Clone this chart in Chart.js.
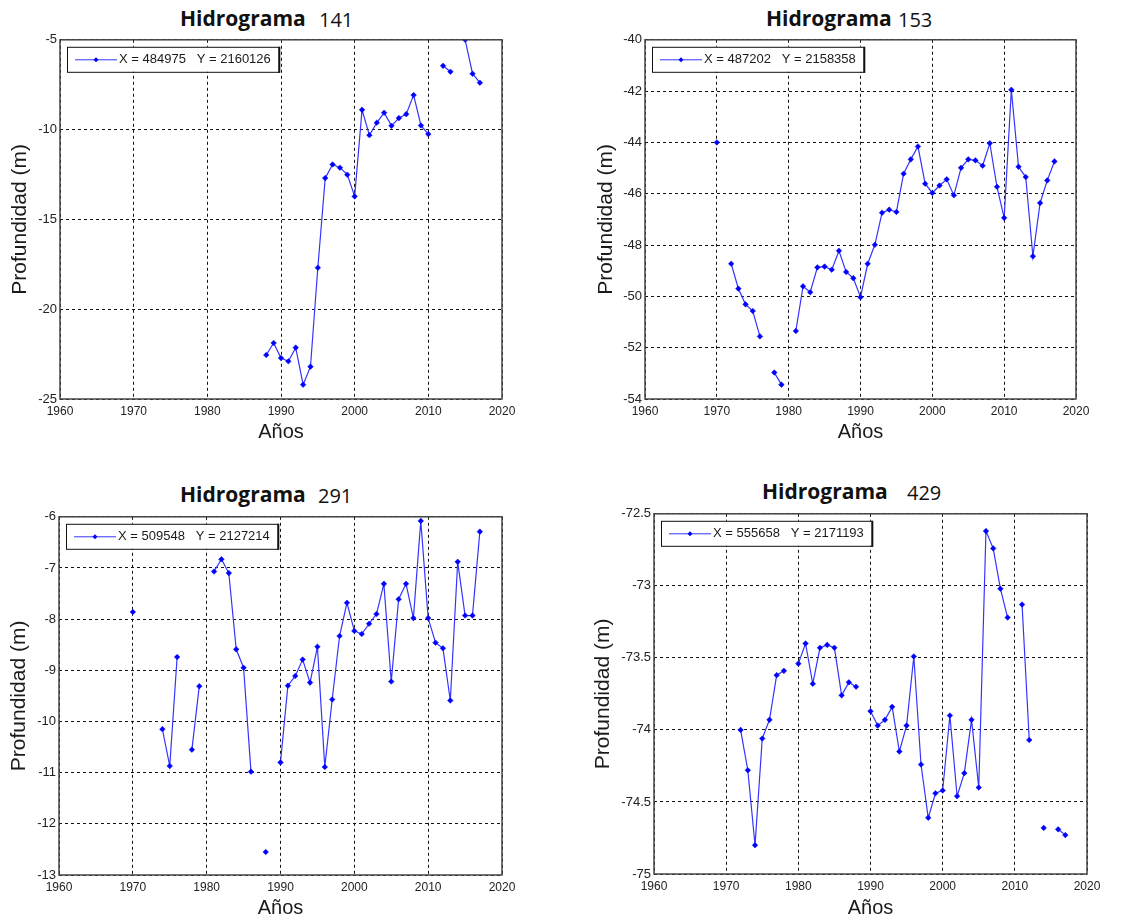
<!DOCTYPE html>
<html>
<head>
<meta charset="utf-8">
<script src="https://cdn.jsdelivr.net/npm/chart.js@4.4.0/dist/chart.umd.min.js"></script>
<style>
  body { margin: 0; background: #fff; width: 1135px; height: 919px; position: relative; overflow: hidden; }
  .ttl { position: absolute; font-family: "Open Sans", sans-serif; font-size: 21px; line-height: 21px; color: #111; white-space: pre; }
  .ttl.b { font-weight: 700; }
  .ttl.n { font-weight: 400; font-size: 20px; }
  canvas { position: absolute; }
</style>
</head>
<body>
<div class="ttl b" style="left:180px;top:8px">Hidrograma</div>
<div class="ttl n" style="left:319px;top:9px">141</div>
<div class="ttl b" style="left:766px;top:8px">Hidrograma</div>
<div class="ttl n" style="left:898px;top:9px">153</div>
<div class="ttl b" style="left:180px;top:484px">Hidrograma</div>
<div class="ttl n" style="left:318px;top:485px">291</div>
<div class="ttl b" style="left:762px;top:481px">Hidrograma</div>
<div class="ttl n" style="left:907px;top:482px">429</div>

<canvas id="c141" width="514" height="415" style="left:8px;top:29px"></canvas>
<canvas id="c153" width="502" height="415" style="left:594px;top:29px"></canvas>
<canvas id="c291" width="515" height="414" style="left:7px;top:506px"></canvas>
<canvas id="c429" width="516" height="417" style="left:591px;top:503px"></canvas>

<script>
// ---- datos ----
const xTicks = [1960, 1970, 1980, 1990, 2000, 2010, 2020];

const years141 = [1988, 1989, 1990, 1991, 1992, 1993, 1994, 1995, 1996, 1997, 1998, 1999, 2000, 2001, 2002, 2003, 2004, 2005, 2006, 2007, 2008, 2009, 2010, 2011, 2012, 2013, 2014, 2015, 2016, 2017];
const depth141 = [-22.55, -21.88, -22.72, -22.90, -22.14, -24.20, -23.20, -17.69, -12.70, -11.94, -12.12, -12.51, -13.72, -8.90, -10.31, -9.62, -9.06, -9.79, -9.36, -9.14, -8.08, -9.77, -10.25, null, -6.45, -6.78, null, -5.00, -6.89, -7.39];
const label141 = 'X = 484975   Y = 2160126';
const yTicks141 = [-25, -20, -15, -10, -5];

const years153 = [1970, 1971, 1972, 1973, 1974, 1975, 1976, 1977, 1978, 1979, 1980, 1981, 1982, 1983, 1984, 1985, 1986, 1987, 1988, 1989, 1990, 1991, 1992, 1993, 1994, 1995, 1996, 1997, 1998, 1999, 2000, 2001, 2002, 2003, 2004, 2005, 2006, 2007, 2008, 2009, 2010, 2011, 2012, 2013, 2014, 2015, 2016, 2017];
const depth153 = [-44.0, null, -48.73, -49.70, -50.31, -50.57, -51.56, null, -52.97, -53.44, null, -51.35, -49.61, -49.84, -48.87, -48.84, -48.96, -48.22, -49.05, -49.29, -50.03, -48.73, -47.99, -46.74, -46.62, -46.71, -45.22, -44.66, -44.16, -45.61, -45.97, -45.68, -45.44, -46.06, -44.99, -44.66, -44.70, -44.91, -44.03, -45.73, -46.94, -41.95, -44.95, -45.35, -48.44, -46.36, -45.48, -44.74];
const label153 = 'X = 487202   Y = 2158358';
const yTicks153 = [-54, -52, -50, -48, -46, -44, -42, -40];

const years291 = [1970, 1971, 1972, 1973, 1974, 1975, 1976, 1977, 1978, 1979, 1980, 1981, 1982, 1983, 1984, 1985, 1986, 1987, 1988, 1989, 1990, 1991, 1992, 1993, 1994, 1995, 1996, 1997, 1998, 1999, 2000, 2001, 2002, 2003, 2004, 2005, 2006, 2007, 2008, 2009, 2010, 2011, 2012, 2013, 2014, 2015, 2016, 2017];
const depth291 = [-7.86, null, null, null, -10.15, -10.87, -8.74, null, -10.55, -9.31, null, -7.07, -6.83, -7.10, -8.59, -8.95, -10.98, null, -12.55, null, -10.80, -9.30, -9.11, -8.79, -9.24, -8.54, -10.89, -9.57, -8.33, -7.68, -8.23, -8.29, -8.09, -7.90, -7.31, -9.22, -7.61, -7.31, -7.98, -6.08, -7.98, -8.46, -8.57, -9.59, -6.88, -7.93, -7.93, -6.29];
const label291 = 'X = 509548   Y = 2127214';
const yTicks291 = [-13, -12, -11, -10, -9, -8, -7, -6];

const years429 = [1972, 1973, 1974, 1975, 1976, 1977, 1978, 1979, 1980, 1981, 1982, 1983, 1984, 1985, 1986, 1987, 1988, 1989, 1990, 1991, 1992, 1993, 1994, 1995, 1996, 1997, 1998, 1999, 2000, 2001, 2002, 2003, 2004, 2005, 2006, 2007, 2008, 2009, 2010, 2011, 2012, 2013, 2014, 2015, 2016, 2017];
const depth429 = [-74.00, -74.28, -74.80, -74.06, -73.93, -73.62, -73.59, null, -73.54, -73.40, -73.68, -73.43, -73.41, -73.43, -73.76, -73.67, -73.70, null, -73.87, -73.97, -73.93, -73.84, -74.15, -73.97, -73.49, -74.24, -74.61, -74.44, -74.42, -73.90, -74.46, -74.30, -73.93, -74.40, -72.62, -72.74, -73.02, -73.22, null, -73.13, -74.07, null, -74.68, null, -74.69, -74.73];
const label429 = 'X = 555658   Y = 2171193';
const yTicks429 = [-75, -74.5, -74, -73.5, -73, -72.5];

const FONT = "'Liberation Sans', Arial, sans-serif";

// marco alrededor del area de trazado
const framePlugin = {
  id: 'frame',
  afterDraw(chart) {
    const { ctx, chartArea: a } = chart;
    ctx.save();
    ctx.strokeStyle = '#444';
    ctx.lineWidth = 1.5;
    ctx.strokeRect(a.left, a.top, a.right - a.left, a.bottom - a.top);
    ctx.restore();
  }
};

// leyenda tipo matlab dentro del grafico
const boxLegend = {
  id: 'boxLegend',
  afterDraw(chart) {
    const { ctx, chartArea: a } = chart;
    const ds = chart.data.datasets[0];
    ctx.save();
    ctx.font = '13px ' + FONT;
    const tw = ctx.measureText(ds.label).width;
    const x = a.left + 7, y = a.top + 7, w = 52 + tw + 8, h = 25;
    ctx.fillStyle = '#fff';
    ctx.fillRect(x, y, w, h);
    ctx.strokeStyle = '#111';
    ctx.lineWidth = 1;
    ctx.strokeRect(x + 0.5, y + 0.5, w, h);
    ctx.lineWidth = 2;
    ctx.beginPath();
    ctx.moveTo(x + w + 0.5, y);
    ctx.lineTo(x + w + 0.5, y + h + 1);
    ctx.stroke();
    const cy = y + h / 2 + 0.5;
    ctx.strokeStyle = ds.borderColor;
    ctx.lineWidth = 1;
    ctx.beginPath();
    ctx.moveTo(x + 8, cy);
    ctx.lineTo(x + 50, cy);
    ctx.stroke();
    ctx.fillStyle = ds.pointBackgroundColor;
    ctx.beginPath();
    ctx.moveTo(x + 29, cy - 2.5);
    ctx.lineTo(x + 31.5, cy);
    ctx.lineTo(x + 29, cy + 2.5);
    ctx.lineTo(x + 26.5, cy);
    ctx.closePath();
    ctx.fill();
    ctx.fillStyle = '#1a1a1a';
    ctx.textBaseline = 'middle';
    ctx.textAlign = 'left';
    ctx.fillText(ds.label, x + 52, cy);
    ctx.restore();
  }
};

function makeChart(id, years, depth, label, yTicks, yWidth, xHeight) {
  const tickList = arr => s => { s.ticks = arr.map(v => ({ value: v })); };
  return new Chart(document.getElementById(id), {
    type: 'line',
    data: {
      datasets: [{
        label: label,
        data: years.map((yr, i) => ({ x: yr, y: depth[i] })),
        borderColor: '#3434ff',
        borderWidth: 1.2,
        pointStyle: 'rectRot',
        pointBackgroundColor: '#0000ff',
        pointBorderColor: '#0000ff',
        pointRadius: 2.8,
        pointBorderWidth: 0.5,
        tension: 0,
        spanGaps: false
      }]
    },
    options: {
      responsive: false,
      devicePixelRatio: 1,
      animation: false,
      layout: { padding: { top: 10, right: 20, left: 0, bottom: 0 } },
      plugins: { legend: { display: false }, tooltip: { enabled: false } },
      scales: {
        x: {
          type: 'linear',
          min: xTicks[0],
          max: xTicks[xTicks.length - 1],
          afterBuildTicks: tickList(xTicks),
          afterFit: s => { s.height = xHeight; },
          border: { display: false, dash: [3, 3] },
          grid: { color: '#111', lineWidth: 1, drawTicks: false },
          ticks: { padding: 5, color: '#222', font: { family: FONT, size: 12 }, callback: v => String(v), maxRotation: 0 },
          title: { display: true, text: 'Años', color: '#1a1a1a', font: { family: FONT, size: 20 }, padding: 0 }
        },
        y: {
          min: yTicks[0],
          max: yTicks[yTicks.length - 1],
          afterBuildTicks: tickList(yTicks),
          afterFit: s => { s.width = yWidth; },
          border: { display: false, dash: [3, 3] },
          grid: { color: '#111', lineWidth: 1, drawTicks: false },
          ticks: { padding: 3, color: '#222', font: { family: FONT, size: 13 }, callback: v => String(v) },
          title: { display: true, text: 'Profundidad (m)', color: '#1a1a1a', font: { family: FONT, size: 21 }, padding: 0 }
        }
      }
    },
    plugins: [framePlugin, boxLegend]
  });
}

document.addEventListener('DOMContentLoaded', () => {
  makeChart('c141', years141, depth141, label141, yTicks141, 52, 45);
  makeChart('c153', years153, depth153, label153, yTicks153, 51, 45);
  makeChart('c291', years291, depth291, label291, yTicks291, 52, 45);
  makeChart('c429', years429, depth429, label429, yTicks429, 63, 46);
});
</script>
</body>
</html>
